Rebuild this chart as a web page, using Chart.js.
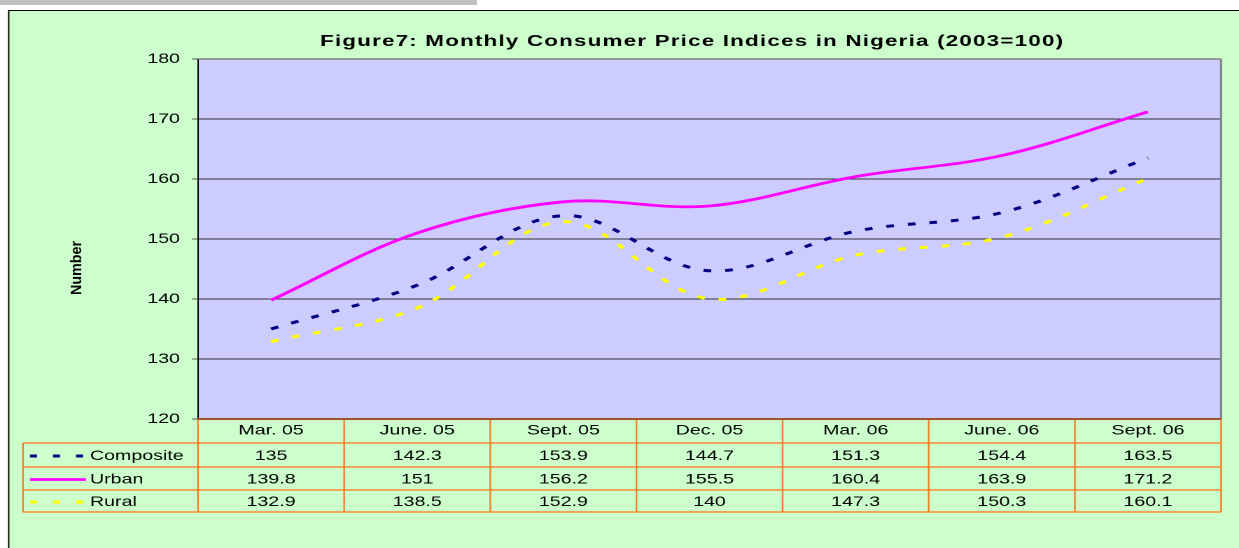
<!DOCTYPE html>
<html>
<head>
<meta charset="utf-8">
<title>Figure7: Monthly Consumer Price Indices in Nigeria (2003=100)</title>
<script src="https://cdn.jsdelivr.net/npm/chart.js@4/dist/chart.umd.min.js"></script>
<style>
  html, body { margin: 0; padding: 0; background: #fff; }
  body { width: 1239px; height: 548px; overflow: hidden; position: relative; }
  #topbar { position: absolute; left: 0; top: 0; width: 477px; height: 5px; background: #c0c0c0; }
  /* the source picture is stretched sideways, so the chart is drawn narrow and widened */
  #wrap { position: absolute; left: 0; top: 0; width: 885px; height: 548px; transform: scaleX(1.4); transform-origin: 0 0; }
</style>
</head>
<body>
<div id="topbar"></div>
<div id="wrap"><canvas id="cpiChart" width="885" height="548"></canvas></div>
<script>
// values from the data table under the chart
var categories = ['Mar. 05', 'June. 05', 'Sept. 05', 'Dec. 05', 'Mar. 06', 'June. 06', 'Sept. 06'];
var composite = [135, 142.3, 153.9, 144.7, 151.3, 154.4, 163.5];
var urban = [139.8, 151, 156.2, 155.5, 160.4, 163.9, 171.2];
var rural = [132.9, 138.5, 152.9, 140, 147.3, 150.3, 160.1];
var yTicks = [120, 130, 140, 150, 160, 170, 180];

var SX = 1.4;
function px(x) { return x / SX; } // page x -> canvas x

var FONT = "'Liberation Sans', Arial, sans-serif";
var TITLE = 'Figure7: Monthly Consumer Price Indices in Nigeria (2003=100)';

var series = [
  { label: 'Composite', data: composite, color: '#000080', dash: [5.5, 10], width: 3 },
  { label: 'Urban', data: urban, color: '#FF00FF', dash: [], width: 2.8 },
  { label: 'Rural', data: rural, color: '#FFFF00', dash: [5.5, 10], width: 3 }
];

function line(ctx, x1, y1, x2, y2) {
  ctx.beginPath();
  ctx.moveTo(x1, y1);
  ctx.lineTo(x2, y2);
  ctx.stroke();
}

var framePlugin = {
  id: 'frame',
  beforeDraw: function (chart) {
    var ctx = chart.ctx;
    var a = chart.chartArea;
    ctx.save();
    ctx.fillStyle = '#CCFFCC';
    ctx.fillRect(px(8), 10, chart.width - px(8), chart.height - 10);
    ctx.strokeStyle = '#000';
    ctx.lineWidth = 1;
    ctx.beginPath();
    ctx.moveTo(px(8) + 0.5, chart.height);
    ctx.lineTo(px(8) + 0.5, 10.5);
    ctx.lineTo(chart.width, 10.5);
    ctx.stroke();

    ctx.fillStyle = '#CCCCFF';
    ctx.fillRect(a.left, a.top, a.right - a.left, a.bottom - a.top);

    // title, spaced out like the original
    ctx.fillStyle = '#000';
    ctx.font = 'bold 16px ' + FONT;
    ctx.letterSpacing = '0px';
    var w0 = ctx.measureText(TITLE).width;
    ctx.letterSpacing = ((px(743) - w0) / (TITLE.length - 1)) + 'px';
    ctx.textAlign = 'left';
    ctx.textBaseline = 'alphabetic';
    ctx.fillText(TITLE, px(320), 46);
    ctx.letterSpacing = '0px';

    // y axis title
    ctx.font = 'bold 11px ' + FONT;
    var nw = ctx.measureText('Number').width;
    ctx.translate(px(77), 268);
    ctx.rotate(-Math.PI / 2);
    ctx.scale(54 / nw, 1);
    ctx.textAlign = 'center';
    ctx.textBaseline = 'middle';
    ctx.fillText('Number', 0, 0);
    ctx.restore();
  },
  afterDraw: function (chart) {
    var ctx = chart.ctx;
    var a = chart.chartArea;
    var xs = chart.scales.x;
    var colW = (a.right - a.left) / categories.length;
    var rows = [a.bottom, 443, 467, 490, 512];
    var legendLeft = px(23);
    ctx.save();

    // plot frame top/right
    ctx.strokeStyle = '#808080';
    ctx.lineWidth = 1.5;
    line(ctx, a.left, a.top, a.right, a.top);
    line(ctx, a.right, a.top, a.right, a.bottom);

    // data table grid
    ctx.strokeStyle = '#F4A454';
    ctx.lineWidth = 2;
    for (var r = 1; r < rows.length; r++) {
      line(ctx, legendLeft, rows[r], a.right, rows[r]);
    }
    ctx.strokeStyle = '#F08028';
    ctx.lineWidth = 1.2;
    for (var c = 0; c <= categories.length; c++) {
      var x = a.left + c * colW;
      line(ctx, x, rows[0], x, rows[4]);
    }
    line(ctx, legendLeft, rows[1], legendLeft, rows[4]);

    ctx.strokeStyle = '#A0522D';
    ctx.lineWidth = 2;
    line(ctx, a.left, a.bottom, a.right, a.bottom);

    // table rows with legend keys
    ctx.font = '14px ' + FONT;
    ctx.fillStyle = '#000';
    ctx.textBaseline = 'middle';
    series.forEach(function (s, i) {
      var yMid = (rows[i + 1] + rows[i + 2]) / 2 + 1;
      ctx.textAlign = 'center';
      s.data.forEach(function (v, j) {
        ctx.fillText(String(v), xs.getPixelForValue(j), yMid);
      });
      ctx.strokeStyle = s.color;
      ctx.lineWidth = s.width;
      ctx.setLineDash(s.dash.length ? [px(7), px(16)] : []);
      line(ctx, px(30), yMid, px(s.dash.length ? 84 : 86), yMid);
      ctx.setLineDash([]);
      ctx.textAlign = 'left';
      ctx.fillText(s.label, px(90), yMid);
    });
    ctx.restore();
  }
};

new Chart(document.getElementById('cpiChart'), {
  type: 'line',
  data: {
    labels: categories,
    datasets: series.map(function (s) {
      return {
        label: s.label,
        data: s.data,
        borderColor: s.color,
        backgroundColor: s.color,
        borderWidth: s.width,
        borderDash: s.dash,
        tension: 0.35,
        pointRadius: 0,
        fill: false
      };
    })
  },
  options: {
    responsive: false,
    devicePixelRatio: 2,
    animation: false,
    layout: { padding: { left: 0, top: 59, right: 885 - px(1221), bottom: 0 } },
    plugins: {
      legend: { display: false },
      title: { display: false },
      tooltip: { enabled: false }
    },
    scales: {
      x: {
        offset: true,
        grid: { display: false, drawTicks: false },
        border: { display: false },
        ticks: { color: '#000', font: { family: FONT, size: 14 }, padding: 3, maxRotation: 0, autoSkip: false },
        afterFit: function (scale) { scale.height = 548 - 419; }
      },
      y: {
        min: yTicks[0],
        max: yTicks[yTicks.length - 1],
        border: { color: '#000', width: 1 },
        grid: {
          color: function (c) {
            if (c.tick.value === yTicks[0]) return 'rgba(0,0,0,0)';
            if (c.tick.value === yTicks[yTicks.length - 1]) return '#808080';
            return '#333333';
          },
          tickColor: '#555555',
          tickLength: px(6)
        },
        ticks: { stepSize: yTicks[1] - yTicks[0], color: '#000', font: { family: FONT, size: 14 }, padding: px(12) },
        afterFit: function (scale) { scale.width = px(198); }
      }
    }
  },
  plugins: [framePlugin]
});
</script>
</body>
</html>
